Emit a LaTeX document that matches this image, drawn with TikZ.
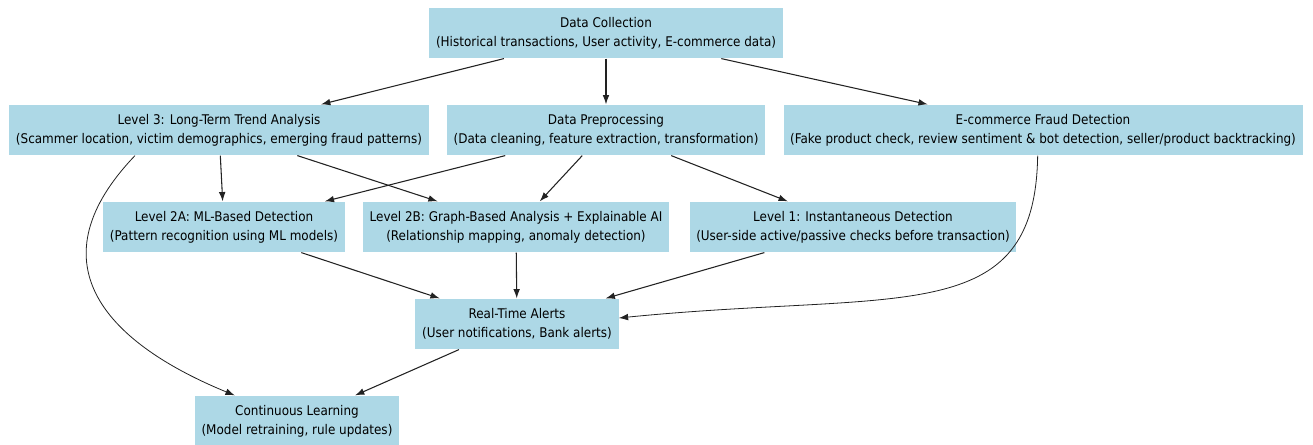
\documentclass[tikz,border=0pt]{standalone}
\usepackage{fontspec}
\setmainfont{DejaVu Sans Condensed}
\usetikzlibrary{arrows.meta,positioning}
\definecolor{NodeBlue}{HTML}{ADD8E6}
\definecolor{EdgeDark}{HTML}{222222}
\tikzset{
  stagenode/.style={fill=NodeBlue,minimum height=38pt,inner xsep=5pt,align=center,font=\fontsize{10}{14.5}\selectfont},
  arrow/.style={-{Latex[length=7pt,width=5pt]},line width=0.8pt,draw=EdgeDark},
  curvearrow/.style={-{Latex[length=7pt,width=5pt]},line width=0.6pt,draw=EdgeDark}
}

\begin{document}
\begin{tikzpicture}[x=0.75pt,y=-0.75pt]
\useasboundingbox (0,0) rectangle (1313,445);
% sources
\node[stagenode] (collect) at (606,33) {Data Collection\\(Historical transactions, User activity, E-commerce data)};
\node[stagenode] (trend) at (219,130) {Level 3: Long-Term Trend Analysis\\(Scammer location, victim demographics, emerging fraud patterns)};
\node[stagenode] (prep) at (606,130) {Data Preprocessing\\(Data cleaning, feature extraction, transformation)};
\node[stagenode] (ecom) at (1043,130) {E-commerce Fraud Detection\\(Fake product check, review sentiment \& bot detection, seller/product backtracking)};
% detection levels
\node[stagenode] (mldet) at (224,227) {Level 2A: ML-Based Detection\\(Pattern recognition using ML models)};
\node[stagenode] (graphdet) at (516,227) {Level 2B: Graph-Based Analysis + Explainable AI\\(Relationship mapping, anomaly detection)};
\node[stagenode] (instdet) at (853,227) {Level 1: Instantaneous Detection\\(User-side active/passive checks before transaction)};
% outputs
\node[stagenode] (alerts) at (517,324) {Real-Time Alerts\\(User notifications, Bank alerts)};
\node[stagenode] (learn) at (297,421) {Continuous Learning\\(Model retraining, rule updates)};

\draw[arrow] (collect) -- (trend);
\draw[arrow] (collect) -- (prep);
\draw[arrow] (collect) -- (ecom);
\draw[arrow] (trend) -- (mldet);
\draw[arrow] (trend) -- (graphdet);
\draw[arrow] (prep) -- (mldet);
\draw[arrow] (prep) -- (graphdet);
\draw[arrow] (prep) -- (instdet);
\draw[arrow] (mldet) -- (alerts);
\draw[arrow] (graphdet) -- (alerts);
\draw[arrow] (instdet) -- (alerts);
\draw[arrow] (alerts) -- (learn);
\draw[curvearrow] ([xshift=-63pt]trend.south) .. controls (35,260) and (100,340) .. (learn);
\draw[curvearrow] ([xshift=-4pt]ecom.south) .. controls (1035,330) and (900,290) .. ([yshift=4.5pt]alerts.east);
\end{tikzpicture}
\end{document}
